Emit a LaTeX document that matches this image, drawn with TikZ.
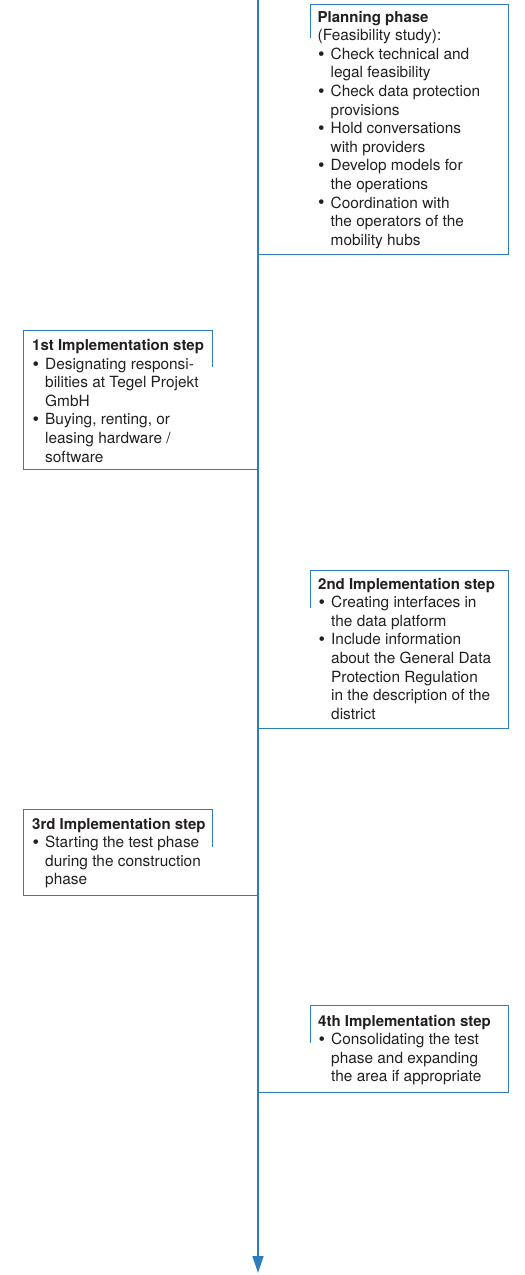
\documentclass[tikz,border=0pt]{standalone}
\usepackage{fontspec}
\setmainfont{TeX Gyre Heros}
\usetikzlibrary{arrows.meta}
\definecolor{lineblue}{RGB}{45,125,190}
\definecolor{ink}{RGB}{35,31,32}
% bullet and hanging indent for the step lists
\newcommand\bul{\makebox[13pt][l]{\hspace*{0.5pt}\raisebox{-0.9pt}{\scalebox{1.2}{\textbullet}}}}
\newcommand\ind{\hspace*{13pt}}
\newcommand\steptitle[1]{{\fontsize{15}{18.6}\selectfont\bfseries #1}}
% text block whose reference point is its first baseline
\newcommand\stepblock[1]{\parbox[t]{240pt}{\fontsize{15.4}{18.6}\selectfont #1}}
\begin{document}
\begin{tikzpicture}[x=1pt,y=-1pt,
  frame/.style={draw=lineblue,line width=1pt},
  txt/.style={anchor=base west,inner sep=0pt,align=left,text=ink},
  spine/.style={draw=lineblue,line width=1.3pt,-{Triangle[length=17pt,width=11pt]}}]
\useasboundingbox (0,0) rectangle (525,1275);

% time axis
\coordinate (axistop) at (258,0);
\coordinate (axisend) at (258,1273);
\draw[spine] (axistop) -- (axisend);

% planning phase
\draw[frame] (258,254) -- (508,254) -- (508,4) -- (310,4) -- (310,38);
\node[txt] (plan) at (317.5,22) {\stepblock{\steptitle{Planning phase}\\
(Feasibility study):\\
\bul Check technical and\\
\ind legal feasibility\\
\bul Check data protection\\
\ind provisions\\
\bul Hold conversations\\
\ind with providers\\
\bul Develop models for\\
\ind the operations\\
\bul Coordination with\\
\ind the operators of the\\
\ind mobility hubs}};

% 1st step
\draw[frame] (258,469) -- (23,469) -- (23,330) -- (212,330) -- (212,367);
\node[txt] (step1) at (32,350.5) {\stepblock{\steptitle{1st Implementation step}\\
\bul Designating responsi-\\
\ind bilities at Tegel Projekt\\
\ind GmbH\\
\bul Buying, renting, or\\
\ind leasing hardware /\\
\ind software}};

% 2nd step
\draw[frame] (258,728) -- (508,728) -- (508,570) -- (310,570) -- (310,608);
\node[txt] (step2) at (318,589) {\stepblock{\steptitle{2nd Implementation step}\\
\bul Creating interfaces in\\
\ind the data platform\\
\bul Include information\\
\ind about the General Data\\
\ind Protection Regulation\\
\ind in the description of the\\
\ind district}};

% 3rd step
\draw[frame] (258,895) -- (23,895) -- (23,809) -- (212,809) -- (212,847);
\node[txt] (step3) at (32,829) {\stepblock{\steptitle{3rd Implementation step}\\
\bul Starting the test phase\\
\ind during the construction\\
\ind phase}};

% 4th step
\draw[frame] (258,1092) -- (508,1092) -- (508,1005) -- (310,1005) -- (310,1043);
\node[txt] (step4) at (318,1026) {\stepblock{\steptitle{4th Implementation step}\\
\bul Consolidating the test\\
\ind phase and expanding\\
\ind the area if appropriate}};
\end{tikzpicture}
\end{document}
